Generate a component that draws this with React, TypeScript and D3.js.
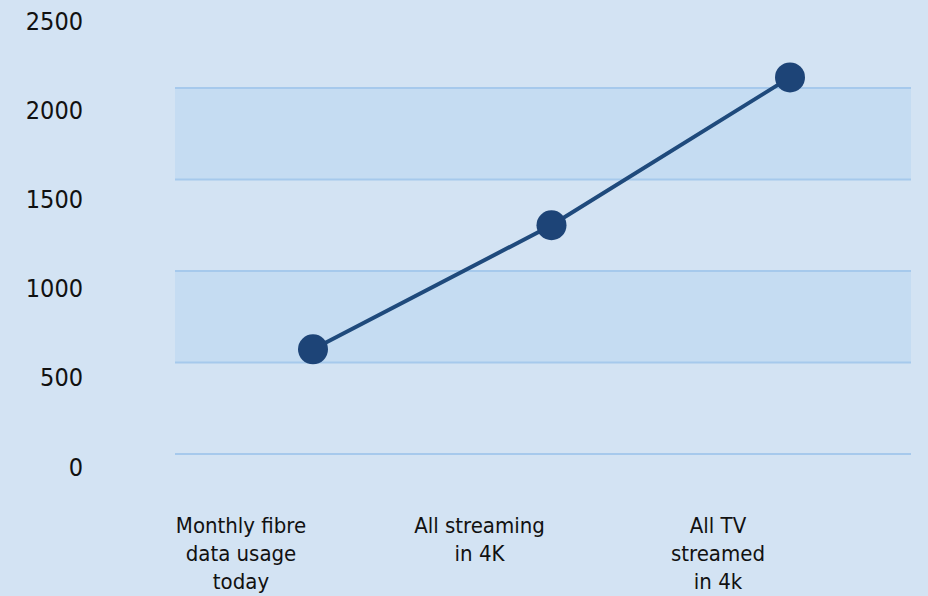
import React from "react";
import * as d3 from "d3";

const categories = ["Monthly fibre data usage today", "All streaming in 4K", "All TV streamed in 4k"];
const categoryLines = [
  ["Monthly fibre", "data usage", "today"],
  ["All streaming", "in 4K"],
  ["All TV", "streamed", "in 4k"],
];
const values = [572, 1250, 2058];
const tickValues = [0, 500, 1000, 1500, 2000, 2500];
const gridValues = [0, 500, 1000, 1500, 2000];

const W = 928;
const H = 596;
const plotLeft = 175;
const plotRight = 911;
const y0 = 454;
const y2000 = 88;

export default function App() {
  const y = d3.scaleLinear().domain([0, 2000]).range([y0, y2000]);
  const yLabel = d3.scaleLinear().domain([0, 2500]).range([467, 21]);
  const x = d3.scalePoint<string>().domain(categories).range([313, 790]);
  const line = d3
    .line<number>()
    .x((_, i) => x(categories[i]) as number)
    .y((d) => y(d));
  const font = "'DejaVu Sans Condensed', 'DejaVu Sans', Verdana, sans-serif";
  return (
    <svg
      width={W}
      height={H}
      style={{ position: "absolute", left: 0, top: 0, display: "block" }}
    >
      <rect x={0} y={0} width={W} height={H} fill="#d3e3f3" />
      {[
        [1500, 2000],
        [500, 1000],
      ].map(([a, b]) => (
        <rect
          key={a}
          x={plotLeft}
          y={y(b)}
          width={plotRight - plotLeft}
          height={y(a) - y(b)}
          fill="#c5dcf2"
        />
      ))}
      {gridValues.map((v) => (
        <line
          key={v}
          x1={plotLeft}
          x2={plotRight}
          y1={y(v)}
          y2={y(v)}
          stroke="#a6c9ec"
          strokeWidth={2}
        />
      ))}
      {tickValues.map((v) => (
        <text
          key={v}
          x={83}
          y={yLabel(v)}
          textAnchor="end"
          dominantBaseline="central"
          fontFamily={font}
          fontSize={25}
          fill="#111"
        >
          {v}
        </text>
      ))}
      <path d={line(values) || ""} fill="none" stroke="#1f4a7c" strokeWidth={4} />
      {values.map((v, i) => (
        <circle key={i} cx={x(categories[i])} cy={y(v)} r={15} fill="#1d4477" />
      ))}
      {categoryLines.map((lines, i) => (
        <text
          key={i}
          textAnchor="middle"
          fontFamily={font}
          fontSize={22}
          fill="#111"
        >
          {lines.map((l, j) => (
            <tspan
              key={j}
              x={(x(categories[i]) as number) - 72}
              y={525 + j * 28}
              dominantBaseline="central"
            >
              {l}
            </tspan>
          ))}
        </text>
      ))}
    </svg>
  );
}
